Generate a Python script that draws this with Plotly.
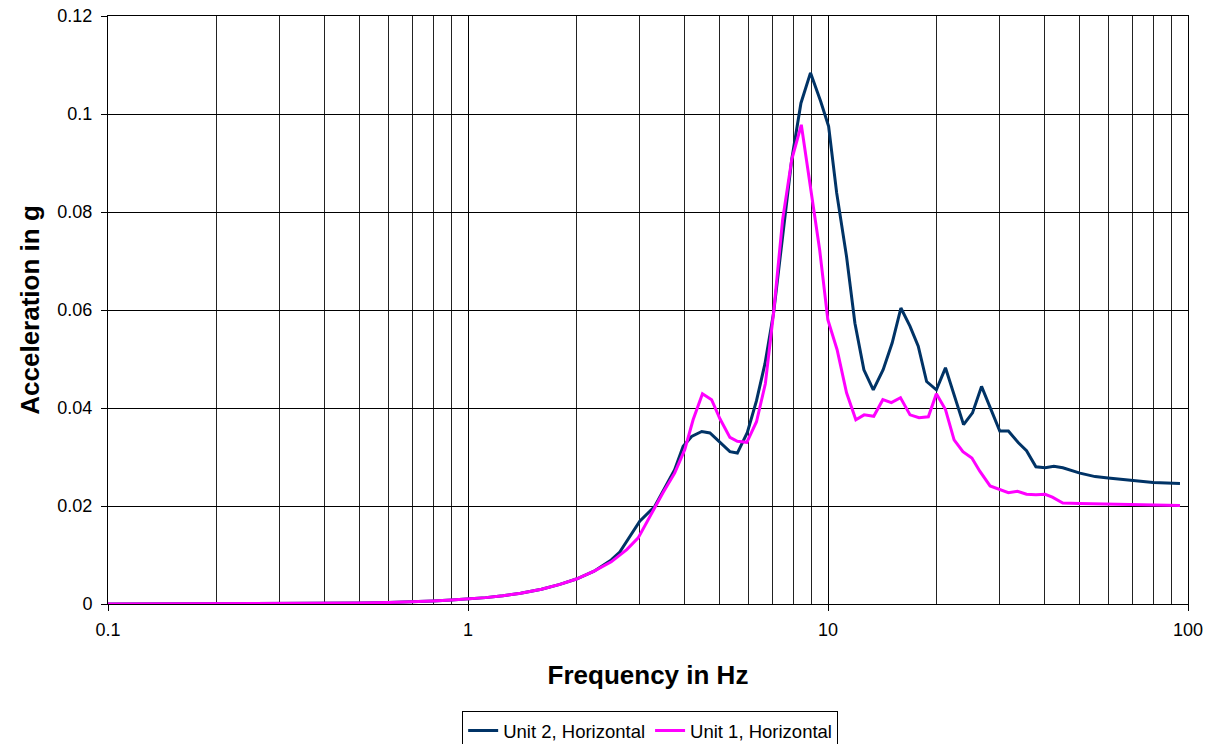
import plotly.graph_objects as go

# Unit 2, Horizontal
freq_u2 = [0.1, 0.2, 0.3, 0.4, 0.5, 0.6, 0.7, 0.8, 0.9, 1.0, 1.12, 1.25, 1.4, 1.6, 1.8, 2.0, 2.24, 2.5,
           2.64, 3.0, 3.3, 3.75, 3.96, 4.18, 4.46, 4.70, 5.01, 5.34, 5.6, 5.97, 6.33, 6.68, 7.06, 7.43,
           7.93, 8.41, 8.94, 9.54, 10.04, 10.57, 11.26, 11.88, 12.58, 13.36, 14.23, 15.08, 15.94, 16.89,
           17.81, 18.79, 20.0, 21.2, 22.5, 23.8, 25.2, 26.7, 30.0, 31.7, 33.8, 35.6, 37.8, 40.1, 42.4,
           44.9, 50.1, 55.2, 60.0, 70.5, 80.0, 95.0]
acc_u2 = [0.0, 0.00005, 0.0001, 0.00015, 0.0002, 0.0003, 0.0004, 0.0006, 0.0008, 0.0010, 0.0013, 0.0017,
          0.0022, 0.0030, 0.0040, 0.0051, 0.0067, 0.0090, 0.0106, 0.0169, 0.0199, 0.0274, 0.0322, 0.0342,
          0.0352, 0.0349, 0.0329, 0.0311, 0.0308, 0.0350, 0.0415, 0.0490, 0.0594, 0.0730, 0.0907, 0.1022,
          0.1084, 0.1026, 0.0975, 0.0839, 0.0709, 0.0573, 0.0478, 0.0437, 0.0478, 0.0533, 0.0604, 0.0567,
          0.0526, 0.0454, 0.0437, 0.0482, 0.0424, 0.0366, 0.0390, 0.0444, 0.0353, 0.0353, 0.0329, 0.0313,
          0.0280, 0.0278, 0.0281, 0.0278, 0.0267, 0.0260, 0.0257, 0.0252, 0.0248, 0.0246]

# Unit 1, Horizontal
freq_u1 = [0.1, 0.2, 0.3, 0.4, 0.5, 0.6, 0.7, 0.8, 0.9, 1.0, 1.12, 1.25, 1.4, 1.6, 1.8, 2.0, 2.24, 2.5,
           2.76, 2.97, 3.27, 3.48, 3.75, 4.0, 4.22, 4.48, 4.75, 5.01, 5.34, 5.6, 5.95, 6.33, 6.7, 7.06,
           7.48, 7.93, 8.43, 8.94, 9.48, 9.99, 10.6, 11.26, 11.95, 12.6, 13.4, 14.2, 15.0, 15.9, 16.9,
           17.9, 19.0, 20.0, 21.2, 22.4, 23.7, 25.1, 26.4, 28.2, 30.0, 31.7, 33.6, 35.6, 37.8, 40.1,
           42.0, 44.9, 50.0, 57.0, 70.0, 95.0]
acc_u1 = [0.0, 0.00005, 0.0001, 0.00015, 0.0002, 0.0003, 0.0004, 0.0006, 0.0008, 0.0010, 0.0013, 0.0017,
          0.0022, 0.0030, 0.0040, 0.0051, 0.0067, 0.0086, 0.0111, 0.0135, 0.0192, 0.0227, 0.0267, 0.0315,
          0.0376, 0.0429, 0.0417, 0.0378, 0.0340, 0.0332, 0.0330, 0.0372, 0.0450, 0.0594, 0.0784, 0.0907,
          0.0978, 0.0852, 0.0723, 0.0580, 0.0519, 0.0431, 0.0376, 0.0386, 0.0383, 0.0417, 0.0411, 0.0421,
          0.0386, 0.0380, 0.0382, 0.0429, 0.0397, 0.0335, 0.0311, 0.0298, 0.0271, 0.0241, 0.0233, 0.0227,
          0.0230, 0.0224, 0.0223, 0.0224, 0.0218, 0.0206, 0.0205, 0.0204, 0.0202, 0.0201]

x_tickvals = [0.1, 1, 10, 100]
x_ticktext = ["0.1", "1", "10", "100"]
y_tickvals = [0, 0.02, 0.04, 0.06, 0.08, 0.1, 0.12]
y_ticktext = ["0", "0.02", "0.04", "0.06", "0.08", "0.1", "0.12"]

FONT = "Liberation Sans, Arial, sans-serif"

fig = go.Figure()
fig.add_trace(go.Scatter(x=freq_u2, y=acc_u2, mode="lines", name="Unit 2, Horizontal",
                         line=dict(color="#003366", width=3)))
fig.add_trace(go.Scatter(x=freq_u1, y=acc_u1, mode="lines", name="Unit 1, Horizontal",
                         line=dict(color="#FF00FF", width=3)))

fig.update_layout(
    width=1213, height=780,
    margin=dict(l=108, r=25, t=16, b=176),
    paper_bgcolor="white", plot_bgcolor="white",
    font=dict(family=FONT, size=18, color="black"),
    showlegend=True,
    legend=dict(orientation="h", x=0.502, xanchor="center", y=-0.182, yanchor="top",
                bordercolor="black", borderwidth=1, font=dict(size=18.5, family=FONT),
                itemwidth=30, tracegroupgap=0),
    xaxis=dict(
        type="log", range=[-1, 2], automargin=False,
        tickvals=x_tickvals, ticktext=x_ticktext,
        ticks="outside", ticklen=6, tickcolor="black",
        showgrid=True, gridcolor="black", gridwidth=1,
        minor=dict(dtick="D1", showgrid=True, gridcolor="#222222", gridwidth=1, ticks=""),
        showline=True, linecolor="black", linewidth=1, mirror=True,
        ticklabelstandoff=3, ticklabeloverflow="allow",
        tickfont=dict(size=18, family=FONT),
        title=dict(text="<b>Frequency in Hz</b>", font=dict(size=26, family=FONT), standoff=27),
        zeroline=False,
    ),
    yaxis=dict(
        range=[0, 0.12], automargin=False,
        tickvals=y_tickvals, ticktext=y_ticktext,
        ticks="outside", ticklen=6, tickcolor="black",
        showgrid=True, gridcolor="black", gridwidth=1,
        showline=True, linecolor="black", linewidth=1, mirror=True,
        ticklabelstandoff=5, ticklabeloverflow="allow",
        tickfont=dict(size=18, family=FONT),
        title=dict(text="<b>Acceleration in g</b>", font=dict(size=26, family=FONT), standoff=10),
        zeroline=False,
    ),
)

# remove the page's default 8 px body margin so the figure sits at the window's top-left corner
fig.write_html("out.html", config={"displayModeBar": False},
               post_script="document.body.style.margin='0px';")
